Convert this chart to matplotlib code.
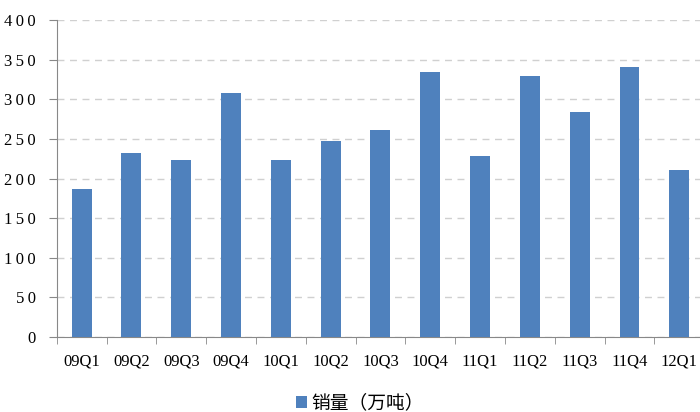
import matplotlib
matplotlib.use("Agg")
import matplotlib.pyplot as plt
import numpy as np

categories = ["09Q1", "09Q2", "09Q3", "09Q4", "10Q1", "10Q2", "10Q3", "10Q4",
              "11Q1", "11Q2", "11Q3", "11Q4", "12Q1"]
sales = [187, 232, 223, 308, 223, 247, 261, 335, 228, 329, 284, 341, 211]
series_name = "销量（万吨）"
yticks = [0, 50, 100, 150, 200, 250, 300, 350, 400]

fig = plt.figure(figsize=(7, 4.12), dpi=100)
ax = fig.add_axes([0.081, 0.182, 0.925, 0.769])

x = np.arange(len(categories))
bars = ax.bar(x, sales, width=0.4, color="#4F81BD", zorder=3, label=series_name)

ax.set_xlim(-0.5, len(categories) - 0.5)
ax.set_ylim(0, 400)
ax.set_yticks(yticks)
ax.set_yticklabels(["\u2009".join(str(v)) for v in yticks],
                   family="Liberation Serif", fontsize=12)
ax.yaxis.grid(True, linestyle=(0, (5, 4)), color="#d0d0d0", linewidth=1, zorder=0)

ax.set_xticks(x)
ax.set_xticklabels(categories, family="Liberation Serif", fontsize=12)
ax.tick_params(axis="x", which="major", length=0, pad=12)
ax.set_xticks(np.arange(len(categories) + 1) - 0.5, minor=True)
ax.tick_params(axis="x", which="minor", length=5, color="#888888", direction="out")
ax.tick_params(axis="y", length=6, color="#888888", direction="out", pad=9)

for s in ["top", "right"]:
    ax.spines[s].set_visible(False)
ax.spines["left"].set_color("#888888")
ax.spines["bottom"].set_color("#888888")

fig.legend(handles=[bars], labels=[series_name], loc="center", bbox_to_anchor=(0.514, 0.022),
           frameon=False, prop={"family": ["Noto Sans CJK SC", "DejaVu Sans"], "size": 13.5},
           handlelength=0.6, handleheight=0.6, handletextpad=0.2)

fig.savefig("out.png", dpi=100)
